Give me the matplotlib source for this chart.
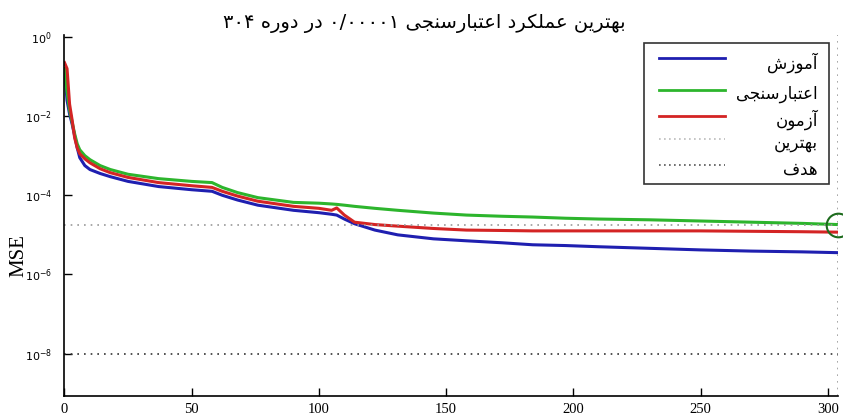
import matplotlib
matplotlib.use("Agg")
import matplotlib.pyplot as plt
from matplotlib.ticker import FixedLocator, NullLocator
from matplotlib.patches import Rectangle
from matplotlib.lines import Line2D

epochs = [0, 1, 2, 3, 4, 5, 6, 8, 10, 14, 18, 25, 37, 50, 58, 62, 68, 76, 90, 100,
          105, 107, 110, 114, 122, 131, 145, 158, 172, 184, 197, 210, 230, 250, 270, 290, 304]

train_mse = [0.158, 0.0251, 0.0112, 6.31e-3, 3.16e-3, 1.58e-3, 8.91e-4, 5.62e-4, 4.47e-4, 3.55e-4,
             2.95e-4, 2.24e-4, 1.66e-4, 1.38e-4, 1.26e-4, 1.0e-4, 7.59e-5, 5.62e-5, 4.17e-5, 3.63e-5,
             3.31e-5, 3.16e-5, 2.51e-5, 1.91e-5, 1.32e-5, 1.0e-5, 7.94e-6, 7.08e-6, 6.31e-6, 5.62e-6,
             5.37e-6, 5.01e-6, 4.57e-6, 4.17e-6, 3.89e-6, 3.72e-6, 3.55e-6]

val_mse = [0.158, 0.0398, 0.0141, 7.08e-3, 3.55e-3, 2.0e-3, 1.41e-3, 1.0e-3, 7.94e-4, 5.62e-4,
           4.47e-4, 3.39e-4, 2.63e-4, 2.24e-4, 2.09e-4, 1.58e-4, 1.17e-4, 8.71e-5, 6.61e-5, 6.31e-5,
           6.03e-5, 5.89e-5, 5.62e-5, 5.25e-5, 4.68e-5, 4.17e-5, 3.55e-5, 3.16e-5, 2.95e-5, 2.82e-5,
           2.63e-5, 2.51e-5, 2.40e-5, 2.24e-5, 2.09e-5, 1.95e-5, 1.82e-5]

test_mse = [0.224, 0.158, 0.0200, 7.94e-3, 2.82e-3, 1.58e-3, 1.12e-3, 8.32e-4, 6.61e-4, 4.68e-4,
            3.72e-4, 2.82e-4, 2.09e-4, 1.74e-4, 1.58e-4, 1.26e-4, 9.55e-5, 7.08e-5, 5.25e-5, 4.68e-5,
            4.17e-5, 4.79e-5, 3.16e-5, 2.09e-5, 1.82e-5, 1.66e-5, 1.45e-5, 1.32e-5, 1.29e-5, 1.26e-5,
            1.26e-5, 1.26e-5, 1.26e-5, 1.26e-5, 1.23e-5, 1.20e-5, 1.17e-5]

best_epoch = 304
best_perf = 1.82e-5
goal = 1e-8

yticks = [1, 1e-2, 1e-4, 1e-6, 1e-8]
xticks = [0, 50, 100, 150, 200, 250, 300]

title_words = ["بهترین", "عملکرد", "اعتبارسنجی", "۰/۰۰۰۰۱", "در", "دوره", "۳۰۴"]
legend_labels = ["آموزش", "اعتبارسنجی", "آزمون", "بهترین", "هدف"]

# presentation forms: isolated, final, initial, medial
FORMS = {
    "ا": ("\uFE8D", "\uFE8E"), "آ": ("\uFE81", "\uFE82"),
    "د": ("\uFEA9", "\uFEAA"), "ر": ("\uFEAD", "\uFEAE"),
    "ز": ("\uFEAF", "\uFEB0"), "و": ("\uFEED", "\uFEEE"),
    "ب": ("\uFE8F", "\uFE90", "\uFE91", "\uFE92"),
    "ت": ("\uFE95", "\uFE96", "\uFE97", "\uFE98"),
    "ج": ("\uFE9D", "\uFE9E", "\uFE9F", "\uFEA0"),
    "س": ("\uFEB1", "\uFEB2", "\uFEB3", "\uFEB4"),
    "ش": ("\uFEB5", "\uFEB6", "\uFEB7", "\uFEB8"),
    "ع": ("\uFEC9", "\uFECA", "\uFECB", "\uFECC"),
    "ف": ("\uFED1", "\uFED2", "\uFED3", "\uFED4"),
    "ل": ("\uFEDD", "\uFEDE", "\uFEDF", "\uFEE0"),
    "م": ("\uFEE1", "\uFEE2", "\uFEE3", "\uFEE4"),
    "ن": ("\uFEE5", "\uFEE6", "\uFEE7", "\uFEE8"),
    "ه": ("\uFEE9", "\uFEEA", "\uFEEB", "\uFEEC"),
    "ک": ("\uFB8E", "\uFB8F", "\uFB90", "\uFB91"),
    "ی": ("\uFBFC", "\uFBFD", "\uFBFE", "\uFBFF"),
}


def shape_word(w):
    if not any(c in FORMS for c in w):
        return w  # digits stay left to right
    out = []
    for i, c in enumerate(w):
        f = FORMS[c]
        prev_joins = i > 0 and len(FORMS.get(w[i - 1], ())) == 4
        next_joins = i < len(w) - 1 and len(f) == 4 and w[i + 1] in FORMS
        if prev_joins and next_joins:
            out.append(f[3])
        elif prev_joins:
            out.append(f[1])
        elif next_joins:
            out.append(f[2])
        else:
            out.append(f[0])
    return "".join(reversed(out))


def rtl(words):
    return " ".join(shape_word(w) for w in reversed(words))


plt.rcParams["mathtext.fontset"] = "stix"

fig = plt.figure(figsize=(8.43, 4.16), dpi=100)
ax = fig.add_axes([0.0765, 0.048, 0.9175, 0.868])

ax.plot(epochs, train_mse, color="#1f1fb0", lw=2.2)
ax.plot(epochs, val_mse, color="#2db52d", lw=2.2)
ax.plot(epochs, test_mse, color="#d42424", lw=2.2)
ax.axhline(best_perf, color="#999999", ls=(0, (1, 3)), lw=1.2)
ax.axvline(best_epoch, color="#999999", ls=(0, (1, 3)), lw=1.2)
ax.axhline(goal, color="#333333", ls=(0, (1, 3)), lw=1.2)
ax.plot([best_epoch], [best_perf], "o", mfc="none", mec="#1d6b1d", ms=17, mew=1.5, clip_on=False)

ax.set_yscale("log")
ax.set_xlim(0, 304)
ax.set_ylim(8.5e-10, 1.12)
ax.yaxis.set_major_locator(FixedLocator(yticks))
ax.yaxis.set_minor_locator(NullLocator())
ax.set_xticks(xticks)
ax.tick_params(direction="in", length=6, width=1)
ax.tick_params(axis="x", labelsize=10.5, pad=5)
ax.tick_params(axis="y", labelsize=8, pad=9)
for t in ax.get_xticklabels():
    t.set_fontfamily("Liberation Serif")
ax.spines["top"].set_visible(False)
ax.spines["right"].set_visible(False)
ax.spines["left"].set_linewidth(1.2)
ax.spines["bottom"].set_linewidth(1.2)
ax.set_ylabel("MSE", fontsize=15, family="Liberation Serif")
ax.yaxis.set_label_coords(-0.047, 0.39)

fig.text(0.503, 0.945, rtl(title_words), ha="center", va="center", fontsize=14, family="DejaVu Sans")

# legend drawn by hand: lines left, labels right aligned
ax.add_patch(Rectangle((0.749, 0.587), 0.239, 0.391, transform=ax.transAxes,
                       fc="white", ec="#333333", lw=1.2, zorder=5))
leg_styles = [("#1f1fb0", "-"), ("#2db52d", "-"), ("#d42424", "-"),
              ("#bbbbbb", (0, (1, 2))), ("#555555", (0, (1, 2)))]
row_y = [0.936, 0.848, 0.776, 0.712, 0.640]
for lab, (c, ls), yy in zip(legend_labels, leg_styles, row_y):
    ax.add_line(Line2D([0.769, 0.854], [yy, yy], transform=ax.transAxes, color=c, ls=ls,
                       lw=2 if ls == "-" else 1.2, zorder=6))
    ax.text(0.974, yy - 0.012, shape_word(lab), transform=ax.transAxes, ha="right", va="center",
            fontsize=12, family="DejaVu Sans", zorder=6)

fig.savefig("out.png", dpi=100)
